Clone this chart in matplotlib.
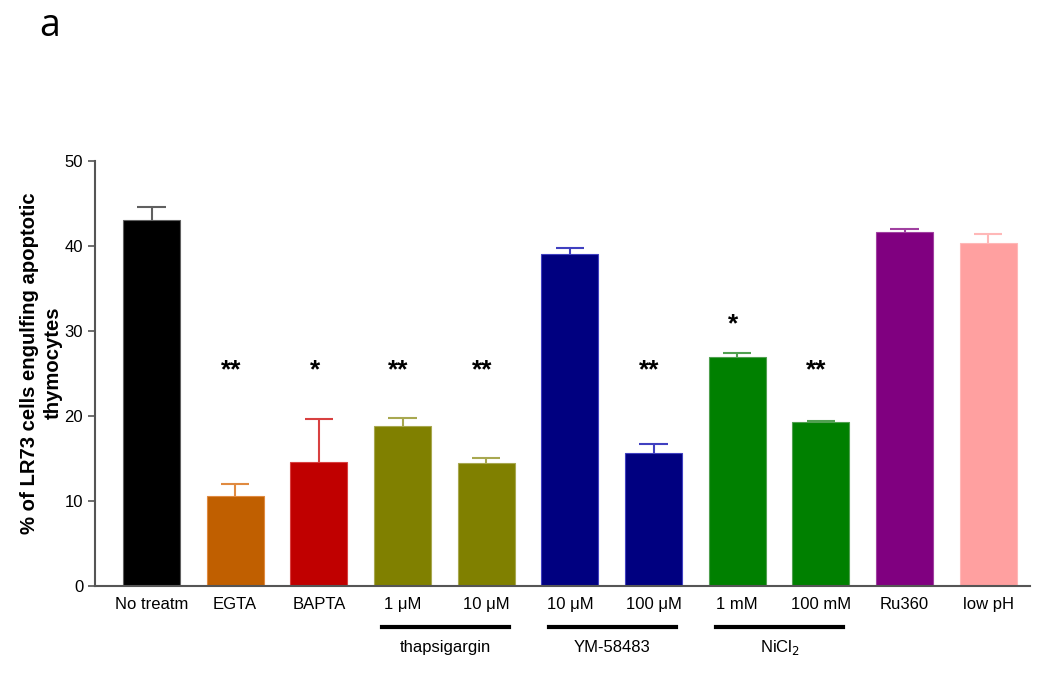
import numpy as np
import matplotlib
matplotlib.use('Agg')
import matplotlib.pyplot as plt
import matplotlib.transforms as mtransforms

plt.rcParams['font.family'] = ['Liberation Sans', 'DejaVu Sans']

labels = ['No treatm', 'EGTA', 'BAPTA', '1 \u03bcM', '10 \u03bcM', '10 \u03bcM',
          '100 \u03bcM', '1 mM', '100 mM', 'Ru360', 'low pH']
means = [43.05, 10.55, 14.6, 18.85, 14.5, 39.05, 15.6, 27.0, 19.3, 41.7, 40.4]
errs = [1.6, 1.45, 5.05, 0.95, 0.6, 0.75, 1.1, 0.45, 0.08, 0.3, 1.05]
stars = ['', '**', '*', '**', '**', '', '**', '*', '**', '', '']
star_y = [0, 25.4, 25.4, 25.4, 25.4, 0, 25.4, 30.8, 25.4, 0, 0]
colors = ['#000000', '#C05F00', '#C00000', '#808000', '#808000', '#000080',
          '#000080', '#008000', '#008000', '#800080', '#FFA0A0']
err_colors = ['#606060', '#E08A40', '#D84040', '#A8A850', '#A8A850', '#4040C0',
              '#4040C0', '#50A050', '#50A050', '#A040A0', '#FFB8B8']
groups = [('thapsigargin', 3, 4), ('YM-58483', 5, 6), ('NiCl$_2$', 7, 8)]

fig = plt.figure(figsize=(10.5, 6.77), dpi=100)
ax = fig.add_axes([0.0905, 0.1344, 0.8905, 0.6276])

x = np.arange(len(means))
ax.bar(x, means, width=0.68, color=colors, edgecolor=err_colors, linewidth=0.8, zorder=2)
for i in range(len(means)):
    # only the upper half of the error bar is drawn
    ax.vlines(x[i], means[i], means[i] + errs[i], color=err_colors[i], lw=1.5, zorder=1)
    ax.hlines(means[i] + errs[i], x[i] - 0.17, x[i] + 0.17, color=err_colors[i], lw=1.5, zorder=1)
    if stars[i]:
        ax.text(x[i] - 0.05, star_y[i], stars[i], ha='center', va='center',
                fontsize=19, fontweight='bold')

ax.set_xlim(-0.675, 10.5)
ax.set_ylim(0, 50)
ax.set_yticks([0, 10, 20, 30, 40, 50])
ax.set_xticks(x)
ax.set_xticklabels(labels, fontsize=12)
ax.tick_params(axis='x', length=0, pad=8)
ax.tick_params(axis='y', labelsize=12, length=5, width=1.2, color='#555555', direction='out')
for s in ['top', 'right']:
    ax.spines[s].set_visible(False)
for s in ['left', 'bottom']:
    ax.spines[s].set_color('#555555')
    ax.spines[s].set_linewidth(1.5)

ax.set_ylabel('% of LR73 cells engulfing apoptotic\nthymocytes', fontsize=14.6,
              fontweight='bold', linespacing=1.3)
ax.yaxis.set_label_coords(-0.035, 0.525)

trans = mtransforms.blended_transform_factory(ax.transData, ax.transAxes)
for name, a, b in groups:
    ax.plot([a - 0.25, b + 0.27], [-0.096, -0.096], color='black', lw=3,
            transform=trans, clip_on=False)
    ax.text((a + b) / 2 + 0.01, -0.145, name, ha='center', va='center',
            fontsize=12, transform=trans)

fig.text(0.037, 0.962, 'a', fontsize=27, ha='left', va='center', family='Open Sans')

fig.savefig('out.png', dpi=100)
